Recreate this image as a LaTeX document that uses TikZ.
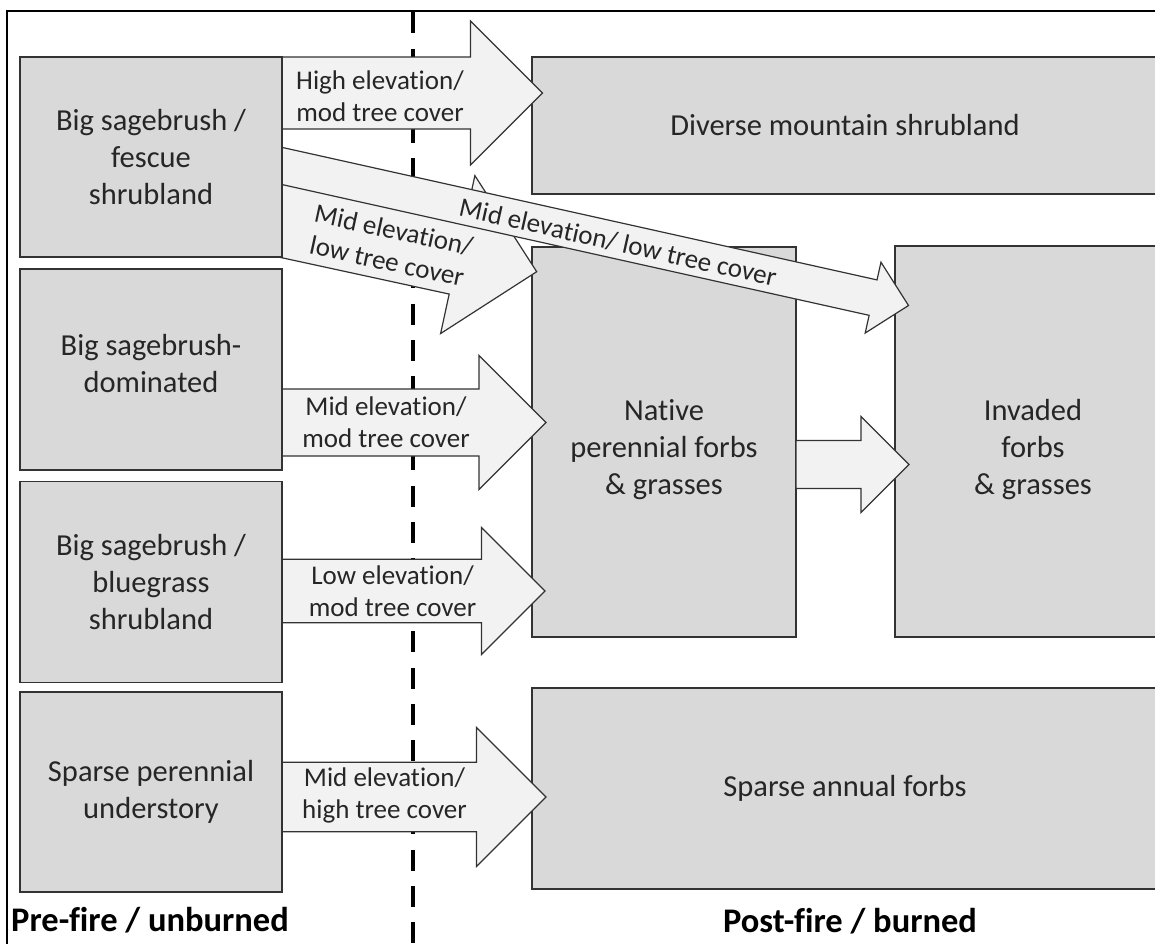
\documentclass[tikz,border=0pt]{standalone}
\usepackage{fontspec}
\setmainfont{Carlito}[Ligatures=NoCommon]
\usetikzlibrary{calc}
\definecolor{boxgray}{HTML}{D9D9D9}
\definecolor{arrfill}{HTML}{F2F2F2}
\definecolor{edge}{HTML}{333333}
\definecolor{txt}{HTML}{262626}
\pgfdeclarelayer{bg}
\pgfdeclarelayer{mid}
\pgfsetlayers{bg,mid,main}
\tikzset{
  box/.style={draw=edge, line width=1.4pt, fill=boxgray, inner sep=0pt, outer sep=0pt,
    anchor=north west, align=center, text=txt, font=\fontsize{30.5}{37}\selectfont},
  boxtext/.style={align=center, text=txt, inner sep=0pt, font=\fontsize{30.5}{37}\selectfont},
  barr/.style={draw=edge, line width=1.2pt, fill=arrfill, line join=miter},
  alab/.style={align=center, text=txt, inner sep=0pt, font=\fontsize{27}{32}\selectfont},
  phase/.style={text=black, inner sep=0pt, font=\bfseries\fontsize{34.5}{40}\selectfont},
  divider/.style={line width=4pt, dash pattern=on 21pt off 15.4pt},
  frame/.style={line width=1.5pt, draw=black}
}
\newcommand\blockarrow[3]{%
  \coordinate (bah) at ($(#2)!#3pt!(#1)$);
  \draw[barr] ($(#1)!0.5*#3pt!90:(#2)$) -- ($(bah)!0.5*#3pt!-90:(#1)$)
    -- ($(bah)!#3pt!-90:(#1)$) -- (#2) -- ($(bah)!#3pt!90:(#1)$)
    -- ($(bah)!0.5*#3pt!90:(#1)$) -- ($(#1)!0.5*#3pt!-90:(#2)$) -- cycle;}
\begin{document}
\begin{tikzpicture}[x=1pt, y=-1pt]
\useasboundingbox (0,0) rectangle (1155,943);
% ---------- background layer: frame, post-fire boxes, divider
\begin{pgfonlayer}{bg}
  \fill[white] (0,0) rectangle (1155,943);
  \draw[frame] (7,990) -- (7,11) -- (1200,11);
  \node[box, minimum width=626pt, minimum height=137pt] (div) at (532,57) {Diverse mountain shrubland};
  \node[box, minimum width=264pt, minimum height=390pt] (nat) at (532,247) {};
  \node[box, minimum width=276pt, minimum height=391pt] (inv) at (895,246) {};
  \node[box, minimum width=626pt, minimum height=201pt] (spa) at (532,688) {Sparse annual forbs};
  \coordinate (dtop) at (412.7,12.4);
  \coordinate (dbot) at (412.7,990);
  \draw[divider] (dtop) -- (dbot);
\end{pgfonlayer}
\node[boxtext] (natlab) at ($(nat.center)+(0,8)$) {Native\\perennial forbs\\\& grasses};
\node[boxtext] (invlab) at ($(inv.center)+(0,8)$) {Invaded\\forbs\\\& grasses};
% ---------- pre-fire boxes (main layer, above arrow tails)
\node[box, minimum width=262pt, minimum height=200pt] (b1) at (20,57) {Big sagebrush /\\fescue\\shrubland};
\node[box, minimum width=262pt, minimum height=201pt] (b2) at (20,269) {};
\node[boxtext] (b2lab) at ($(b2.center)+(0,-6)$) {Big sagebrush-\\dominated};
\node[box, minimum width=262pt, minimum height=201pt] (b3) at (20,481.5) {Big sagebrush /\\bluegrass\\shrubland};
\node[box, minimum width=262pt, minimum height=200pt] (b4) at (20,692) {Sparse perennial\\understory};
% ---------- arrow end points
\coordinate (a1s) at ($(b1.north east)+(-12,36)$);
\coordinate (a1t) at ($(div.north west)+(10.5,36)$);
\coordinate (a2s) at ($(b2.north east)+(-12,153.5)$);
\coordinate (a2t) at ($(nat.north west)+(14,175.5)$);
\coordinate (a3s) at ($(b3.north east)+(-12,109.5)$);
\coordinate (a3t) at ($(nat.north west)+(13,344)$);
\coordinate (a4s) at ($(b4.north east)+(-12,105)$);
\coordinate (a4t) at ($(spa.north west)+(14,109)$);
\coordinate (a5s) at ($(nat.north east)+(0,217.5)$);
\coordinate (a5t) at ($(inv.north west)+(14,218.5)$);
\coordinate (aAs) at ($(b1.north east)+(-20,155.1)$);
\coordinate (aAt) at ($(nat.north west)+(4.7,24.7)$);
\coordinate (aBs) at ($(b1.north east)+(-20,104.5)$);
\coordinate (aBt) at ($(inv.north west)+(13.5,59.5)$);
% ---------- block arrows
\begin{pgfonlayer}{mid}
  \blockarrow{a1s}{a1t}{72}
  \blockarrow{a2s}{a2t}{67}
  \blockarrow{a3s}{a3t}{63.5}
  \blockarrow{a4s}{a4t}{69.5}
  \blockarrow{a5s}{a5t}{48}
  \blockarrow{aAs}{aAt}{80.8}
  \blockarrow{aBs}{aBt}{36.3}
\end{pgfonlayer}
% ---------- arrow labels
\node[alab] (l1) at (380,96) {High elevation/\\mod tree cover};
\node[alab] (l2) at (386,422.5) {Mid elevation/\\mod tree cover};
\node[alab] (l3) at (392.5,591) {Low elevation/\\mod tree cover};
\node[alab] (l4) at (384.5,795.5) {Mid elevation/\\high tree cover};
\node[alab, rotate=-12.24] (lA) at (390.5,245.5) {Mid elevation/\\low tree cover};
\node[alab, rotate=-12.6] (lB) at (618,242.5) {Mid elevation/ low tree cover};
% ---------- phase labels
\node[phase, anchor=base west] (pre) at (11,931) {Pre-fire / unburned};
\node[phase, anchor=base] (post) at (850,932) {Post-fire / burned};
\end{tikzpicture}
\end{document}
